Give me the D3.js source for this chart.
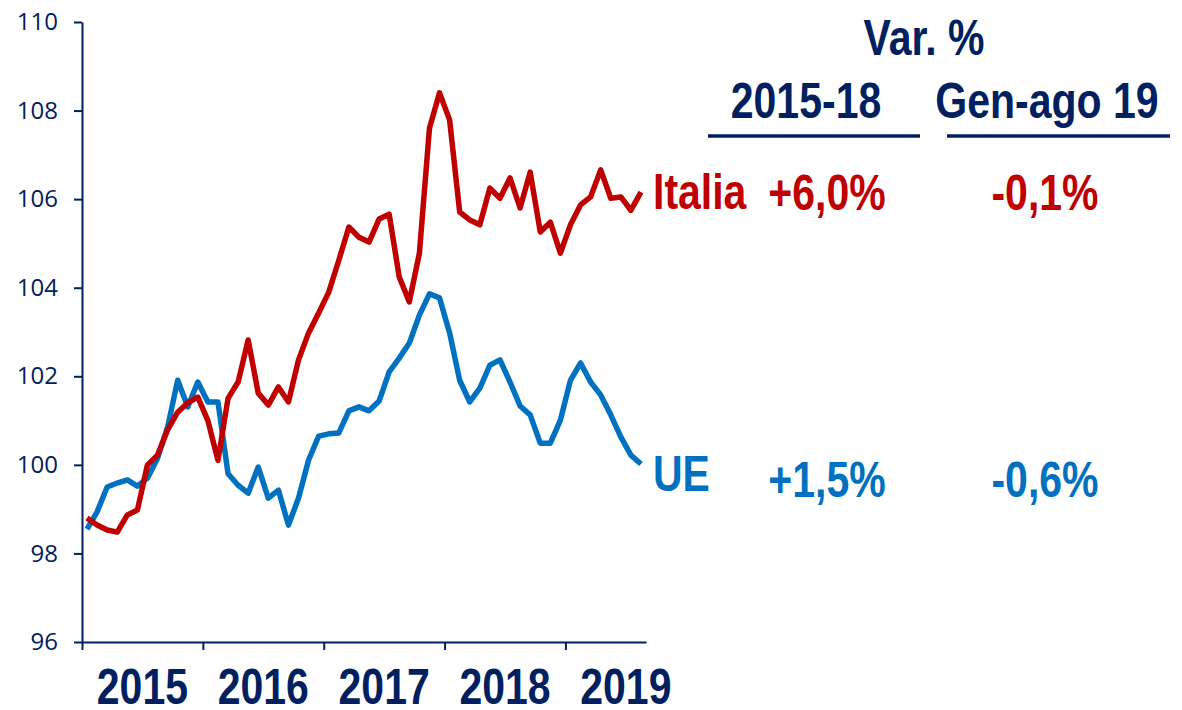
<!DOCTYPE html>
<html>
<head>
<meta charset="utf-8">
<script src="https://cdn.jsdelivr.net/npm/d3@7"></script>
<style>
  body { margin: 0; background: #ffffff; }
  svg { display: block; }
</style>
</head>
<body>
<div id="chart"></div>
<script>
// monthly index, Jan 2015 - Aug 2019
const years = ["2015", "2016", "2017", "2018", "2019"];
const italia = [
  98.80, 98.64, 98.53, 98.48, 98.87, 98.98, 100.00, 100.22, 100.79, 101.19, 101.40, 101.53,
  101.00, 100.10, 101.50, 101.87, 102.82, 101.62, 101.35, 101.76, 101.42, 102.37, 102.98, 103.43,
  103.90, 104.62, 105.37, 105.14, 105.03, 105.55, 105.66, 104.24, 103.68, 104.78, 107.60, 108.40,
  107.79, 105.71, 105.53, 105.42, 106.25, 106.02, 106.48, 105.80, 106.61, 105.26, 105.48, 104.78,
  105.42, 105.87, 106.05, 106.66, 106.02, 106.05, 105.75, 106.16
];
const ue = [
  98.55, 98.94, 99.50, 99.59, 99.66, 99.52, 99.70, 100.15, 100.85, 101.91, 101.31, 101.87,
  101.42, 101.42, 99.80, 99.54, 99.36, 99.95, 99.25, 99.43, 98.64, 99.25, 100.11, 100.65,
  100.70, 100.72, 101.22, 101.31, 101.22, 101.44, 102.10, 102.41, 102.75, 103.38, 103.86, 103.77,
  102.98, 101.91, 101.42, 101.73, 102.25, 102.37, 101.87, 101.33, 101.13, 100.49, 100.49, 101.01,
  101.91, 102.30, 101.87, 101.58, 101.13, 100.63, 100.22, 100.02
];
const yTicks = [96, 98, 100, 102, 104, 106, 108, 110];
const varTitle = "Var. %";
const periods = ["2015-18", "Gen-ago 19"];
const italiaVar = ["+6,0%", "-0,1%"];
const ueVar = ["+1,5%", "-0,6%"];

const width = 1182;
const height = 710;
const navy = "#002060";
const red = "#C00000";
const blue = "#0070C0";
const narrow = 0.82; // squeeze bold sans to look like Arial Narrow

const svg = d3.select("#chart")
  .append("svg")
  .attr("width", width)
  .attr("height", height)
  .attr("viewBox", [0, 0, width, height]);

const x = d3.scaleLinear().domain([0, 56]).range([82, 646]);
const y = d3.scaleLinear().domain([96, 110]).range([642, 22]);

// y axis
const yAxis = svg.append("g")
  .attr("transform", "translate(82,0)")
  .call(d3.axisLeft(y).tickValues(yTicks).tickSize(8).tickSizeOuter(0).tickPadding(16));
yAxis.selectAll("text")
  .attr("fill", navy)
  .attr("font-family", "'Open Sans', 'Liberation Sans', sans-serif")
  .attr("font-size", 24);

// x axis
const xAxis = svg.append("g")
  .attr("transform", "translate(0,642)")
  .call(d3.axisBottom(x).tickValues([0, 12, 24, 36, 48]).tickSize(8).tickSizeOuter(0).tickFormat(""));

svg.selectAll(".domain, .tick line")
  .attr("stroke", navy)
  .attr("stroke-width", 2);

// year labels under the axis
svg.selectAll(".year")
  .data(years)
  .enter()
  .append("text")
  .attr("class", "year")
  .attr("transform", (d, i) => `translate(${x(i * 12 + 6)},704) scale(${narrow},1)`)
  .attr("text-anchor", "middle")
  .attr("font-family", "'Liberation Sans', Arial, sans-serif")
  .attr("font-weight", "bold")
  .attr("font-size", 50)
  .attr("fill", navy)
  .text(d => d);

// lines
const line = d3.line()
  .x((d, i) => x(i + 0.5))
  .y(d => y(d));

svg.append("path")
  .datum(ue)
  .attr("fill", "none")
  .attr("stroke", blue)
  .attr("stroke-width", 5.5)
  .attr("stroke-linejoin", "round")
  .attr("d", line);

svg.append("path")
  .datum(italia)
  .attr("fill", "none")
  .attr("stroke", red)
  .attr("stroke-width", 5.5)
  .attr("stroke-linejoin", "round")
  .attr("d", line);

// right-hand table
function bigText(txt, tx, ty, color, anchor) {
  svg.append("text")
    .attr("transform", `translate(${tx},${ty}) scale(${narrow},1)`)
    .attr("text-anchor", anchor)
    .attr("font-family", "'Liberation Sans', Arial, sans-serif")
    .attr("font-weight", "bold")
    .attr("font-size", 50)
    .attr("fill", color)
    .text(txt);
}

bigText(varTitle, 924, 55, navy, "middle");

const colX = [806, 1047];
const ulines = [[708, 920], [947, 1170]];
periods.forEach((p, i) => {
  bigText(p, colX[i], 118, navy, "middle");
  svg.append("line")
    .attr("x1", ulines[i][0])
    .attr("x2", ulines[i][1])
    .attr("y1", 136)
    .attr("y2", 136)
    .attr("stroke", navy)
    .attr("stroke-width", 3.5);
});

bigText("Italia", 653, 209, red, "start");
bigText("UE", 653, 491, blue, "start");

const valX = [827, 1045];
italiaVar.forEach((v, i) => bigText(v, valX[i], 210, red, "middle"));
ueVar.forEach((v, i) => bigText(v, valX[i], 497, blue, "middle"));
</script>
</body>
</html>
